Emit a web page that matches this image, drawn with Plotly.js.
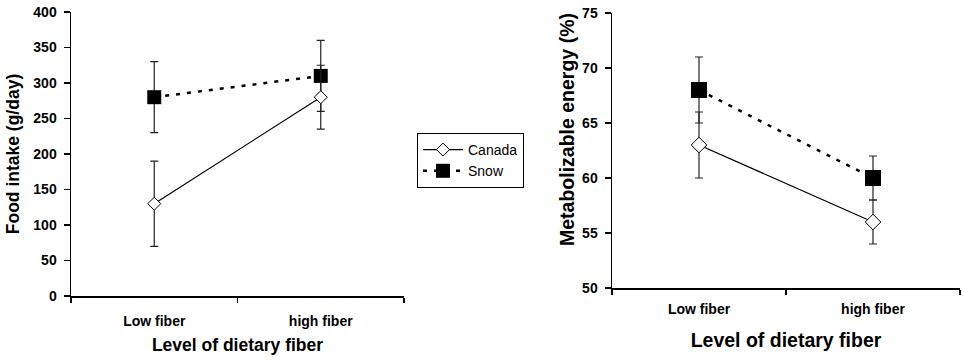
<!DOCTYPE html>
<html>
<head>
<meta charset="utf-8">
<script src="https://cdn.plot.ly/plotly-3.0.1.min.js"></script>
<style>html,body{margin:0;padding:0;background:#fff;}#chart{width:964px;height:361px;}</style>
</head>
<body>
<div id="chart"></div>
<script>
const categories = ['Low fiber', 'high fiber'];
const intakeCanada = [130, 280];
const intakeCanadaErr = [60, 45];
const intakeSnow = [280, 310];
const intakeSnowErr = [50, 50];
const meCanada = [63, 56];
const meCanadaErr = [3, 2];
const meSnow = [68, 60];
const meSnowErr = [3, 2];
const seriesNames = ['Canada', 'Snow'];

const FONT = 'Arial, "Liberation Sans", sans-serif';

function canada(y, err, xa, ya, show, size) {
  return {
    x: categories, y: y, type: 'scatter', mode: 'lines+markers', name: seriesNames[0],
    xaxis: xa, yaxis: ya, showlegend: show, legendrank: 1,
    line: {color: '#000', width: 1.2},
    marker: {symbol: 'diamond', size: size, color: '#fff', line: {color: '#000', width: 1}},
    error_y: {type: 'data', array: err, visible: true, color: '#222', thickness: 1.2, width: 4}
  };
}
function snow(y, err, xa, ya, show, size) {
  return {
    x: categories, y: y, type: 'scatter', mode: 'lines+markers', name: seriesNames[1],
    xaxis: xa, yaxis: ya, showlegend: show, legendrank: 2,
    line: {color: '#000', width: 2.5, dash: '4px,7px'},
    marker: {symbol: 'square', size: size, color: '#000', line: {color: '#000', width: 0}},
    error_y: {type: 'data', array: err, visible: true, color: '#222', thickness: 1.2, width: 4}
  };
}

const data = [
  snow(intakeSnow, intakeSnowErr, 'x', 'y', true, 14),
  canada(intakeCanada, intakeCanadaErr, 'x', 'y', true, 10),
  snow(meSnow, meSnowErr, 'x2', 'y2', false, 16),
  canada(meCanada, meCanadaErr, 'x2', 'y2', false, 12)
];

const xCommon = {
  type: 'category', range: [-0.5, 1.5], tickson: 'boundaries',
  showline: true, linecolor: '#000', linewidth: 1.5, ticks: 'outside', ticklen: 5, tickcolor: '#000', tickwidth: 1.5,
  showgrid: false, zeroline: false, fixedrange: true,
  tickfont: {family: FONT, size: 14, color: '#000', weight: 'bold'}
};
const yCommon = {
  showline: true, linecolor: '#000', linewidth: 1.5, ticks: 'outside', ticklen: 6, tickcolor: '#000', tickwidth: 1.5,
  showgrid: false, zeroline: false, fixedrange: true,
  tickfont: {family: FONT, size: 14, color: '#000', weight: 'bold'}
};

const layout = {
  width: 964, height: 361,
  margin: {l: 0, r: 0, t: 0, b: 0},
  paper_bgcolor: '#fff', plot_bgcolor: '#fff',
  font: {family: FONT, color: '#000'},
  showlegend: true,
  legend: {x: 417/964, y: 1 - 133/361, xanchor: 'left', yanchor: 'top',
    bordercolor: '#000', borderwidth: 1, bgcolor: '#fff', traceorder: 'normal',
    font: {family: FONT, size: 14, color: '#000'}, tracegroupgap: 0, itemwidth: 40},
  xaxis: Object.assign({}, xCommon, {domain: [71/964, 404/964], anchor: 'y', ticklabelstandoff: 12,
    title: {text: 'Level of dietary fiber', font: {family: FONT, size: 17.5, weight: 'bold'}, standoff: 10}}),
  yaxis: Object.assign({}, yCommon, {domain: [1 - 296/361, 1 - 12/361], anchor: 'x', range: [0, 400], dtick: 50, tick0: 0, ticklabelstandoff: 4,
    title: {text: 'Food intake (g/day)', font: {family: FONT, size: 17.5, weight: 'bold'}, standoff: 9}}),
  xaxis2: Object.assign({}, xCommon, {domain: [612/964, 960/964], anchor: 'y2', ticklabelstandoff: 8,
    title: {text: 'Level of dietary fiber', font: {family: FONT, size: 19.5, weight: 'bold'}, standoff: 17}}),
  yaxis2: Object.assign({}, yCommon, {domain: [1 - 288/361, 1 - 13/361], anchor: 'x2', range: [50, 75], dtick: 5, tick0: 50, ticklabelstandoff: 4}),
  annotations: [{
    text: 'Metabolizable energy (%)', textangle: -90, xref: 'paper', yref: 'paper',
    x: 567/964, y: 1 - 130/361, xanchor: 'center', yanchor: 'middle', showarrow: false,
    font: {family: FONT, size: 19.5, weight: 'bold', color: '#000'}
  }]
};

Plotly.newPlot('chart', data, layout, {staticPlot: true, displayModeBar: false});
</script>
</body>
</html>
